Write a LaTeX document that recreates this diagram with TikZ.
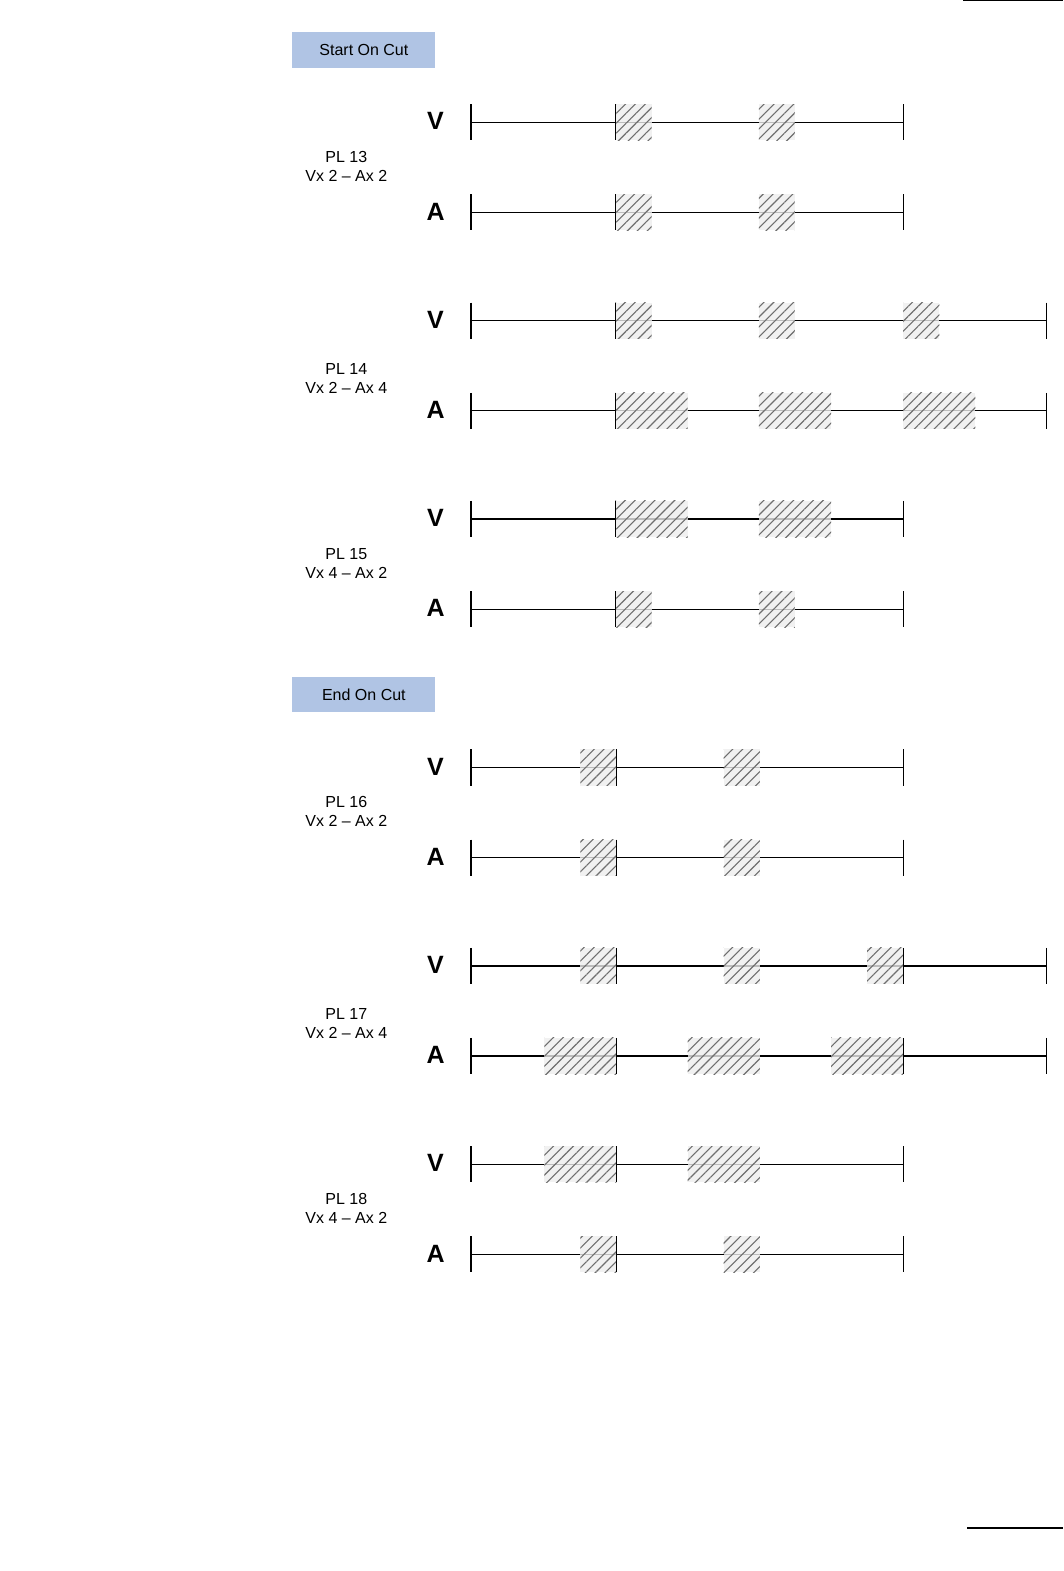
\documentclass[tikz,border=0pt]{standalone}
\usepackage{fontspec}
\setmainfont{Liberation Sans}
\usetikzlibrary{patterns.meta}
\definecolor{headblue}{RGB}{176,196,228}
\definecolor{hatchgray}{RGB}{110,110,110}

\begin{document}
\begin{tikzpicture}[x=1.0024pt, y=-1.0019pt,
  track/.style={line width=1.3pt, black},
  hatchbox/.style={fill=black!7, fill opacity=0.8,
    postaction={pattern={Lines[angle=45, distance=7pt, line width=1.1pt]}, pattern color=hatchgray}},
  head/.style={fill=headblue, minimum width=143pt, minimum height=36pt, inner sep=0pt,
    font=\fontsize{16}{19}\selectfont},
  plname/.style={align=center, font=\fontsize{16}{19}\selectfont},
  chan/.style={font=\fontsize{25}{30}\selectfont\bfseries},
]
\useasboundingbox (0,0) rectangle (1060.5,1568);

% ---------- page rules ----------
\draw[line width=1pt] (961,1) -- (1060.5,1);
\draw[line width=1.3pt] (965,1525) -- (1060.5,1525);

% ---------- section headers ----------
\node[head] (startcut) at (363,50) {Start On Cut};
\node[head, minimum height=35pt] (endcut) at (363,693.5) {End On Cut};

% ---------- clip names ----------
\node[plname] (pl13) at (345.5,166) {PL 13\\Vx 2 -- Ax 2};
\node[plname] (pl14) at (345.5,378) {PL 14\\Vx 2 -- Ax 4};
\node[plname] (pl15) at (345.5,562) {PL 15\\Vx 4 -- Ax 2};
\node[plname] (pl16) at (345.5,810) {PL 16\\Vx 2 -- Ax 2};
\node[plname] (pl17) at (345.5,1022) {PL 17\\Vx 2 -- Ax 4};
\node[plname] (pl18) at (345.5,1206) {PL 18\\Vx 4 -- Ax 2};

% ---------- tracks: y / end / cut width / cuts / ticks / channel ----------
\foreach \y/\xe/\w/\boxes/\ticks/\ch in {
    122/901/36/{614,757}/{470,614,901}/V,
    212/901/36/{614,757}/{470,614,901}/A,
    320/1044/36/{614,757,901}/{470,614,1044}/V,
    410/1044/72/{614,757,901}/{470,614,1044}/A,
    518/901/72/{614,757}/{470,614,901}/V,
    608/901/36/{614,757}/{470,614,901}/A,
    766/901/36/{579,722}/{470,615,901}/V,
    856/901/36/{579,722}/{470,615,901}/A,
    964/1044/36/{579,722,865}/{470,615,901,1044}/V,
    1054/1044/72/{543,686,829}/{470,615,901,1044}/A,
    1162/901/72/{543,686}/{470,615,901}/V,
    1252/901/36/{579,722}/{470,615,901}/A}{
  \node[chan] (ch\y) at (434.5,\y-1) {\ch};
  \coordinate (ts\y) at (471,\y);
  \coordinate (te\y) at (\xe,\y);
  \draw[track] (ts\y) -- (te\y);
  \foreach \x in \boxes
    \path[hatchbox] (\x,\y-18) rectangle ++(\w,36);
  \foreach \x in \ticks
    \draw[track] (\x,\y-18) -- ++(0,36);
}

\end{tikzpicture}
\end{document}
